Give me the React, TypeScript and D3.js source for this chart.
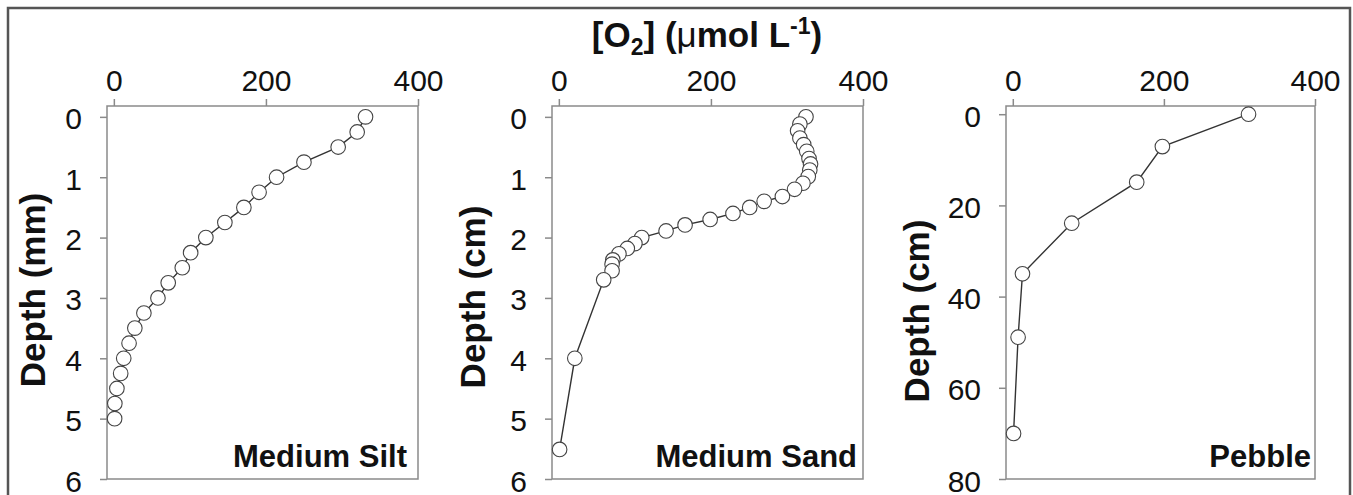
import React, { useEffect, useRef } from "react";
import * as d3 from "d3";

// O2 profiles
const siltDepth = [0, 0.25, 0.5, 0.75, 1, 1.25, 1.5, 1.75, 2, 2.25, 2.5, 2.75, 3, 3.25, 3.5, 3.75, 4, 4.25, 4.5, 4.75, 5];
const siltO2 = [331, 320, 295, 250, 214, 191, 171, 146, 121, 101, 90, 71.5, 58, 39.5, 27.6, 20, 13, 9, 4, 1.3, 1];

const sandDepth = [0, 0.12, 0.23, 0.35, 0.46, 0.57, 0.69, 0.78, 0.88, 0.99, 1.1, 1.2, 1.32, 1.4, 1.5, 1.6, 1.7, 1.79, 1.89, 2.0, 2.1, 2.18, 2.27, 2.37, 2.44, 2.55, 2.7, 4.0, 5.51];
const sandO2 = [325, 317, 314, 317, 322, 326, 329, 331, 330, 328, 321, 310, 294, 270, 251, 229, 199, 166, 141, 109, 100, 90, 79, 71, 70, 70, 59, 21, 1];

const pebbleDepth = [0, 7.1, 14.9, 23.9, 35, 48.9, 70];
const pebbleO2 = [312, 198, 164, 78, 12.8, 7, 1];

const o2Ticks = [0, 200, 400];
const mmTicks = [0, 1, 2, 3, 4, 5, 6];
const cmTicks = [0, 1, 2, 3, 4, 5, 6];
const pebbleTicks = [0, 20, 40, 60, 80];

const FONT = "'Liberation Sans', Arial, sans-serif";
const AXIS_COLOR = "#8a8a8a";
const LINE_COLOR = "#333";

const panels = [
  { name: "Medium Silt", yLabel: "Depth (mm)", depth: siltDepth, o2: siltO2, ticks: mmTicks, yMax: 6, yMin: -0.18,
    left: 107, right: 418, labelX: 45, labelY: 290, nameDx: 11 },
  { name: "Medium Sand", yLabel: "Depth (cm)", depth: sandDepth, o2: sandO2, ticks: cmTicks, yMax: 6, yMin: -0.18,
    left: 552, right: 863, labelX: 485, labelY: 297, nameDx: 6 },
  { name: "Pebble", yLabel: "Depth (cm)", depth: pebbleDepth, o2: pebbleO2, ticks: pebbleTicks, yMax: 80, yMin: -1.8,
    left: 1006, right: 1315, labelX: 929, labelY: 311, nameDx: 4 },
];

const TOP = 106;
const BOTTOM = 479;

const App = () => {
  const ref = useRef<SVGSVGElement>(null);

  useEffect(() => {
    const svg = d3.select(ref.current);
    svg.selectAll("*").remove();

    // outer frame
    svg.append("rect")
      .attr("x", 8).attr("y", 8)
      .attr("width", 1342).attr("height", 520)
      .attr("fill", "none")
      .attr("stroke", "#555")
      .attr("stroke-width", 2.5);

    // title
    const title = svg.append("text")
      .attr("x", 707).attr("y", 47)
      .attr("text-anchor", "middle")
      .style("font-family", FONT)
      .style("font-size", "35px")
      .style("font-weight", "bold")
      .attr("fill", "#111");
    title.append("tspan").text("[O");
    title.append("tspan").attr("dy", 8).style("font-size", "23px").text("2");
    title.append("tspan").attr("dy", -8).text("] (");
    title.append("tspan").style("font-weight", "normal").text("\u03bc");
    title.append("tspan").text("mol L");
    title.append("tspan").attr("dy", -13).style("font-size", "23px").text("-1");
    title.append("tspan").attr("dy", 13).text(")");

    panels.forEach(p => {
      const x = d3.scaleLinear().domain([-9, 400]).range([p.left, p.right]);
      const y = d3.scaleLinear().domain([p.yMin, p.yMax]).range([TOP, BOTTOM]);
      const g = svg.append("g");

      // plot box
      g.append("rect")
        .attr("x", p.left).attr("y", TOP)
        .attr("width", p.right - p.left).attr("height", BOTTOM - TOP)
        .attr("fill", "none")
        .attr("stroke", AXIS_COLOR)
        .attr("stroke-width", 1.5);

      // x axis (top)
      const xa = g.append("g")
        .attr("transform", `translate(0,${TOP})`)
        .call(d3.axisTop(x).tickValues(o2Ticks).tickFormat(d3.format("d")).tickSize(7).tickPadding(8));
      xa.select(".domain").remove();

      // y axis (left)
      const ya = g.append("g")
        .attr("transform", `translate(${p.left},0)`)
        .call(d3.axisLeft(y).tickValues(p.ticks).tickFormat(d3.format("d")).tickSize(7).tickPadding(18));
      ya.select(".domain").remove();

      [xa, ya].forEach(a => {
        a.selectAll("line").attr("stroke", AXIS_COLOR).attr("stroke-width", 1.5);
        a.selectAll("text")
          .attr("fill", "#111")
          .style("font-family", FONT)
          .style("font-size", "30px");
      });
      ya.selectAll("text").attr("dy", "0.4em");

      // y title
      g.append("text")
        .attr("transform", `translate(${p.labelX},${p.labelY}) rotate(-90)`)
        .attr("text-anchor", "middle")
        .style("font-family", FONT)
        .style("font-size", "35px")
        .style("font-weight", "bold")
        .attr("fill", "#111")
        .text(p.yLabel);

      // profile
      const pts = p.depth.map((d, i) => [p.o2[i], d] as [number, number]);
      const line = d3.line<[number, number]>().x(d => x(d[0])).y(d => y(d[1]));
      g.append("path")
        .attr("d", line(pts))
        .attr("fill", "none")
        .attr("stroke", LINE_COLOR)
        .attr("stroke-width", 1.4);

      g.selectAll("circle")
        .data(pts)
        .join("circle")
        .attr("cx", d => x(d[0]))
        .attr("cy", d => y(d[1]))
        .attr("r", 7.3)
        .attr("fill", "#fff")
        .attr("stroke", "#444")
        .attr("stroke-width", 1.1);

      // sediment name
      g.append("text")
        .attr("x", p.right - p.nameDx)
        .attr("y", BOTTOM - 12)
        .attr("text-anchor", "end")
        .style("font-family", FONT)
        .style("font-size", "31px")
        .style("font-weight", "bold")
        .attr("fill", "#111")
        .text(p.name);
    });
  }, []);

  return (
    <svg
      ref={ref}
      width={1353}
      height={495}
      style={{ position: "absolute", left: 0, top: 0, background: "#fff" }}
    />
  );
};

export default App;
